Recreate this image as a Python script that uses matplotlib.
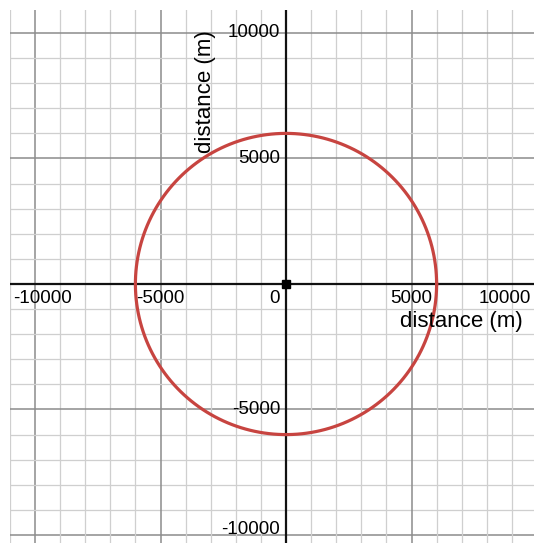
import numpy as np
import matplotlib
matplotlib.use("Agg")
import matplotlib.pyplot as plt

plt.rcParams['font.family'] = ['Liberation Sans', 'DejaVu Sans']

# data
radius = 6000
center = (0, 0)
x_ticks = [-10000, -5000, 5000, 10000]
x_tick_labels = ["-10000", "-5000", "5000", "10000"]
y_ticks = [10000, 5000, -5000, -10000]
y_tick_labels = ["10000", "5000", "-5000", "-10000"]
axis_label = "distance (m)"

xlim = (-10996, 9880)
ylim = (-10319, 10916)

fig = plt.figure(figsize=(5.34, 5.43), dpi=100)
ax = fig.add_axes([10/534, 0, 524/534, 533/543])
ax.set_xlim(*xlim)
ax.set_ylim(*ylim)
for s in ax.spines.values():
    s.set_visible(False)
ax.set_xticks([])
ax.set_yticks([])

# grid
for v in range(-11000, 11001, 1000):
    major = (v % 5000 == 0)
    c = '#8c8c8c' if major else '#cfcfcf'
    lw = 1.1 if major else 0.9
    if v != 0:
        ax.axvline(v, color=c, lw=lw, zorder=1)
        ax.axhline(v, color=c, lw=lw, zorder=1)

ax.axvline(0, color='#111111', lw=1.6, zorder=2)
ax.axhline(0, color='#111111', lw=1.6, zorder=2)

# circle
t = np.linspace(0, 2*np.pi, 400)
ax.plot(center[0] + radius*np.cos(t), center[1] + radius*np.sin(t),
        color='#c74440', lw=2.3, zorder=3)
ax.plot([center[0]], [center[1]], marker='s', ms=6, color='black', zorder=4)

# tick labels (edge labels nudged inward as in the reference)
fs = 13.5
for xv, lab in zip(x_ticks, x_tick_labels):
    if xv == -10000:
        ax.annotate(lab, (xv, 0), xytext=(-22, -15), textcoords='offset pixels',
                    ha='left', va='center', fontsize=fs, zorder=5,
                    annotation_clip=False)
    elif xv == 10000:
        ax.annotate(lab, (xv, 0), xytext=(-58, -15), textcoords='offset pixels',
                    ha='left', va='center', fontsize=fs, zorder=5,
                    annotation_clip=False)
    else:
        ax.annotate(lab, (xv, 0), xytext=(0, -15), textcoords='offset pixels',
                    ha='center', va='center', fontsize=fs, zorder=5,
                    annotation_clip=False)
ax.annotate("0", (0, 0), xytext=(-12, -15), textcoords='offset pixels',
            ha='center', va='center', fontsize=fs, zorder=5)
for yv, lab in zip(y_ticks, y_tick_labels):
    off = 5 if yv == -10000 else 0
    ax.annotate(lab, (0, yv), xytext=(-6, off), textcoords='offset pixels',
                ha='right', va='center', fontsize=fs, zorder=5)

# axis labels
ax.annotate(axis_label, (9880, 0), xytext=(-11, -38), textcoords='offset pixels',
            ha='right', va='center', fontsize=16, zorder=5)
ax.annotate(axis_label, (0, 10916), xytext=(-81, -82), textcoords='offset pixels',
            ha='center', va='center', rotation=90, fontsize=16, zorder=5)

fig.savefig("out.png", dpi=100)
